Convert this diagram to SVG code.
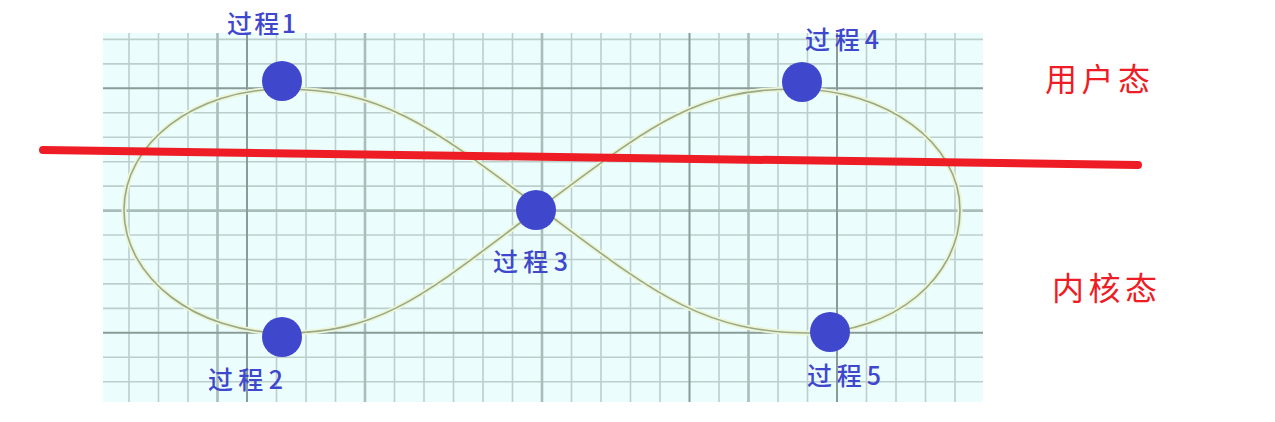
<svg xmlns="http://www.w3.org/2000/svg" width="1275" height="422" viewBox="0 0 1275 422">
<style>
.grid-thin{stroke:#bccfcc;stroke-width:1.6;fill:none}
.grid-mid{stroke:#a9bdb9;stroke-width:2.6;fill:none}
.grid-dark{stroke:#8a9c97;stroke-width:2;fill:none}
.curve-glow{stroke:#ecf5d6;stroke-width:5;fill:none}
.curve{stroke:#98a98a;stroke-width:1.6;fill:none}
.dot{fill:#3f48cc}
.lbl{font-family:"Noto Sans CJK SC","Liberation Sans",sans-serif;font-size:25px;font-weight:500;fill:#3f48cc}
.state{font-family:"Noto Sans CJK SC","Liberation Sans",sans-serif;font-size:32px;fill:#ee1c24}
.divider{stroke:#ee1c24;stroke-width:8;stroke-linecap:round;fill:none}
</style>
<rect x="0" y="0" width="1275" height="422" fill="#ffffff"/>
<g id="grid">
<rect x="103" y="33" width="880" height="369" fill="#ebfdfd"/>
<path class="grid-thin" d="M129 33V402M158.5 33V402M188 33V402M276.5 33V402M306 33V402M335.5 33V402M394.5 33V402M424 33V402M453.5 33V402M483 33V402M512.5 33V402M571.5 33V402M601 33V402M630.5 33V402M660 33V402M719 33V402M778 33V402M807.5 33V402M866.5 33V402M896 33V402M925.5 33V402M955 33V402"/>
<path class="grid-thin" d="M103 39.4H983M103 63.9H983M103 112.8H983M103 137.2H983M103 161.7H983M103 186.1H983M103 235H983M103 259.5H983M103 283.9H983M103 308.4H983M103 357.3H983M103 381.7H983"/>
<path class="grid-mid" d="M217.5 33V402M365 33V402M542 33V402M748.5 33V402M103 210.6H983"/>
<path class="grid-dark" d="M247 33V402M689.5 33V402M837 33V402M103 88.3H983M103 332.8H983"/>
</g>
<g id="connectors">
<path class="curve-glow" d="M540 208C430 126 383 89 283 89C195 89 124 143 124 210C124 278 196 333 285 333C385 333 430 290 540 208C650 126 695 89 795 89C886 89 960 143 960 210C960 278 893 333 810 333C700 333 650 290 540 208Z"/>
<path class="curve" d="M540 208C430 126 383 89 283 89C195 89 124 143 124 210C124 278 196 333 285 333C385 333 430 290 540 208C650 126 695 89 795 89C886 89 960 143 960 210C960 278 893 333 810 333C700 333 650 290 540 208Z"/>
</g>
<g id="divider">
<line class="divider" x1="43" y1="150" x2="1138" y2="165"/>
</g>
<g id="node-p1">
<circle class="dot" cx="282" cy="81" r="20"/>
<text class="lbl" x="227" y="33" textLength="69" lengthAdjust="spacing">过程1</text>
</g>
<g id="node-p2">
<circle class="dot" cx="282" cy="337" r="20"/>
<text class="lbl" x="208" y="389" textLength="75" lengthAdjust="spacing">过程2</text>
</g>
<g id="node-p3">
<circle class="dot" cx="536" cy="210" r="20"/>
<text class="lbl" x="493" y="271" textLength="75" lengthAdjust="spacing">过程3</text>
</g>
<g id="node-p4">
<circle class="dot" cx="802" cy="82" r="20"/>
<text class="lbl" x="805" y="49" textLength="74" lengthAdjust="spacing">过程4</text>
</g>
<g id="node-p5">
<circle class="dot" cx="830" cy="332" r="20"/>
<text class="lbl" x="807" y="385" textLength="74" lengthAdjust="spacing">过程5</text>
</g>
<g id="state-user">
<text class="state" x="1045" y="91" textLength="105" lengthAdjust="spacing">用户态</text>
</g>
<g id="state-kernel">
<text class="state" x="1052" y="300" textLength="105" lengthAdjust="spacing">内核态</text>
</g>
</svg>
